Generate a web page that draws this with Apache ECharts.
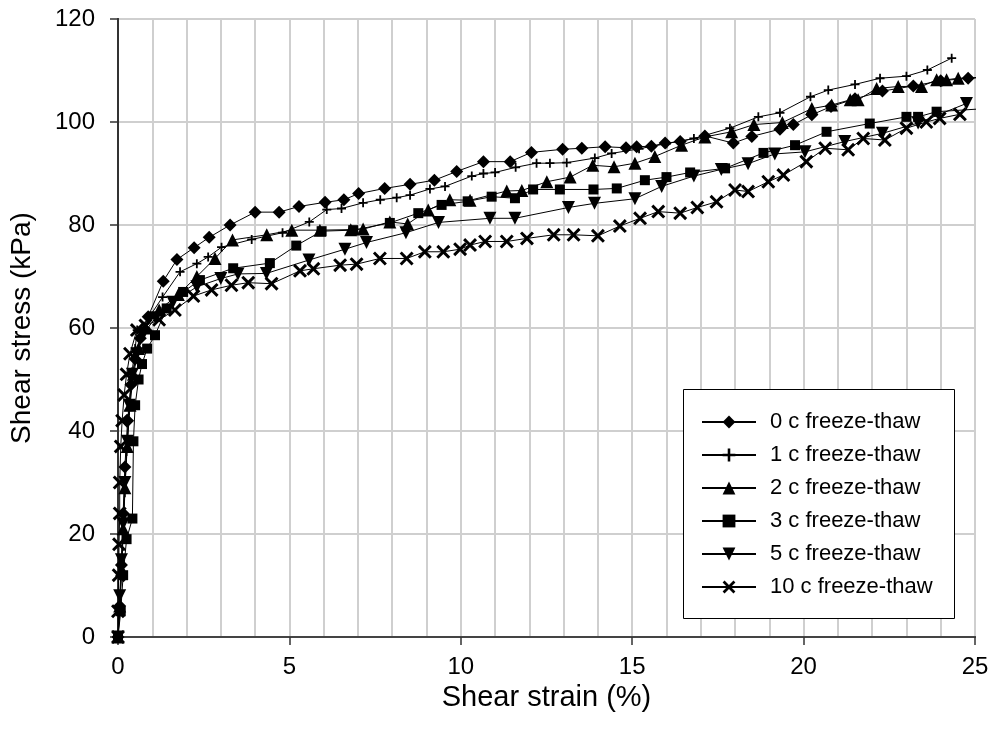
<!DOCTYPE html>
<html>
<head>
<meta charset="utf-8">
<script src="https://cdn.jsdelivr.net/npm/echarts@6/dist/echarts.min.js"></script>
<style>
html,body{margin:0;padding:0;background:#fff;}
#chart{width:992px;height:745px;}
</style>
</head>
<body>
<div id="chart"></div>
<script>
// Series names
var seriesNames = ['0 c freeze-thaw','1 c freeze-thaw','2 c freeze-thaw','3 c freeze-thaw','5 c freeze-thaw','10 c freeze-thaw'];

// [shear strain (%), shear stress (kPa)]
var ft0 = [[0,0],[0.05,6],[0.1,14],[0.15,24],[0.2,33],[0.28,42],[0.38,49],[0.5,54],[0.65,58],[0.88,62.2],[1.32,69.1],[1.72,73.3],[2.22,75.6],[2.66,77.6],[3.27,80.0],[4.0,82.5],[4.7,82.5],[5.28,83.6],[6.04,84.4],[6.59,84.9],[7.02,86.1],[7.78,87.1],[8.52,87.9],[9.23,88.7],[9.88,90.4],[10.66,92.3],[11.44,92.3],[12.06,94.1],[12.97,94.7],[13.53,94.9],[14.21,95.2],[14.82,95.0],[15.13,95.2],[15.56,95.3],[15.96,95.9],[16.40,96.2],[17.12,97.3],[17.95,95.9],[18.49,97.2],[19.31,98.6],[19.7,99.5],[20.24,101.4],[20.8,103],[21.5,104.5],[22.3,106],[23.2,107],[24.0,108],[24.8,108.5],[25.3,108.8]];
var ft1 = [[0,0],[0.05,5],[0.1,12],[0.15,20],[0.2,28],[0.25,36],[0.32,44],[0.4,51],[0.5,56],[0.56,59.6],[0.9,62],[1.3,66],[1.81,70.9],[2.3,72.5],[2.63,73.8],[3.02,75.7],[3.9,77.2],[4.8,78.5],[5.58,80.6],[6.09,83.0],[6.52,83.2],[7.15,84.3],[7.65,84.9],[8.13,85.3],[8.52,85.8],[9.10,87.0],[9.54,87.5],[10.32,89.5],[10.66,90.0],[11.0,90.2],[11.6,91.2],[12.21,92.0],[12.6,92.0],[13.09,92.1],[13.91,93.0],[14.40,93.9],[15.2,94.8],[16.0,95.8],[16.8,96.8],[17.85,98.8],[18.68,101.0],[19.31,101.8],[20.2,104.9],[20.72,106.2],[21.5,107.3],[22.23,108.5],[23.0,108.9],[23.61,110.1],[24.32,112.4]];
var ft2 = [[0,0],[0.05,6],[0.1,13],[0.15,21],[0.2,29],[0.27,37],[0.35,45],[0.45,51],[0.6,56],[0.8,60],[1.2,63.5],[1.76,66.5],[2.3,70],[2.83,73.5],[3.34,77.1],[4.34,78.1],[5.07,79.0],[5.89,79.0],[6.79,79.1],[7.15,79.2],[7.93,80.6],[8.45,80.2],[9.05,82.9],[9.68,84.9],[10.27,84.8],[11.34,86.6],[11.78,86.7],[12.51,88.4],[13.19,89.3],[13.85,91.6],[14.47,91.3],[15.08,92.0],[15.66,93.3],[16.44,95.5],[17.12,97.1],[17.9,98.1],[18.55,99.5],[19.38,99.9],[20.24,102.6],[20.82,103.3],[21.36,104.3],[21.59,104.3],[22.13,106.5],[22.76,106.9],[23.44,106.9],[23.88,108.2],[24.17,108.2],[24.51,108.5],[25.3,108.6]];
var ft3 = [[0,0],[0.08,5],[0.15,12],[0.25,19],[0.42,23],[0.45,38],[0.5,45],[0.6,50],[0.7,53],[0.85,56],[1.08,58.6],[1.42,63.8],[1.9,67],[2.39,69.3],[3.36,71.6],[4.43,72.6],[5.2,76.0],[5.94,78.8],[6.86,79.0],[7.93,80.4],[8.76,82.3],[9.44,83.9],[10.2,84.6],[10.9,85.5],[11.58,85.2],[12.11,86.9],[12.89,86.9],[13.87,86.9],[14.55,87.1],[15.37,88.7],[16.0,89.3],[16.69,90.2],[17.71,91.0],[18.83,94.0],[19.75,95.5],[20.67,98.1],[21.93,99.7],[23.0,101.0],[23.34,101.0],[23.88,102.0],[25.3,102.6]];
var ft5 = [[0,0],[0.05,8],[0.1,15],[0.15,22],[0.2,30],[0.27,38],[0.33,45],[0.42,51],[0.55,55],[0.75,59],[1.1,62],[1.6,65],[2.3,68],[3.0,69.6],[3.5,70.5],[4.33,70.6],[5.57,73.2],[6.62,75.3],[7.25,76.6],[8.4,78.5],[9.35,80.5],[10.85,81.3],[11.58,81.3],[13.14,83.4],[13.9,84.2],[15.08,85.1],[15.86,87.5],[16.8,89.5],[17.6,90.8],[18.38,91.9],[19.16,93.8],[20.04,94.2],[21.2,96.2],[22.3,97.8],[23.34,99.8],[24.75,103.6]];
var ft10 = [[0,0],[0.0,5],[0.02,12],[0.03,18],[0.05,24],[0.05,30],[0.08,37],[0.12,42],[0.18,47],[0.25,51],[0.35,55],[0.55,59.6],[0.8,60.5],[1.2,61.6],[1.66,63.5],[2.2,66.2],[2.73,67.4],[3.31,68.3],[3.8,68.8],[4.48,68.6],[5.31,71.1],[5.7,71.5],[6.48,72.2],[6.96,72.4],[7.64,73.5],[8.42,73.5],[8.95,74.8],[9.49,74.8],[9.98,75.3],[10.27,76.1],[10.71,76.8],[11.34,76.8],[11.93,77.4],[12.71,78.1],[13.29,78.1],[14.0,77.9],[14.64,79.8],[15.23,81.3],[15.76,82.6],[16.4,82.3],[16.9,83.4],[17.46,84.5],[18.0,86.8],[18.38,86.5],[18.97,88.4],[19.41,89.7],[20.08,92.3],[20.63,94.9],[21.3,94.6],[21.74,96.8],[22.37,96.5],[23.0,98.8],[23.58,100.0],[23.97,100.7],[24.56,101.5]];

var xTicks = [0,5,10,15,20,25];
var yTicks = [0,20,40,60,80,100,120];

var FONT = '"Liberation Sans", Arial, sans-serif';
var plusPath = 'path://M-1,-5H1V-1H5V1H1V5H-1V1H-5V-1H-1Z';
var xPath = 'path://M-5,-3.5L-3.5,-5L0,-1.5L3.5,-5L5,-3.5L1.5,0L5,3.5L3.5,5L0,1.5L-3.5,5L-5,3.5L-1.5,0Z';

var allData = [ft0, ft1, ft2, ft3, ft5, ft10];
var symbols = ['diamond', plusPath, 'triangle', 'rect', 'triangle', xPath];
var sizes = [13, 9, 13, 10, 13, 14];
var rotates = [0, 0, 0, 0, 180, 0];

var series = allData.map(function (d, i) {
  return {
    name: seriesNames[i],
    type: 'line',
    data: d,
    symbol: symbols[i],
    symbolSize: sizes[i],
    symbolRotate: rotates[i],
    showAllSymbol: true,
    clip: true,
    lineStyle: {color: '#000', width: 1},
    itemStyle: {color: '#000'},
    animation: false,
    z: 2
  };
});

var chart = echarts.init(document.getElementById('chart'), null, {renderer: 'canvas'});
chart.setOption({
  backgroundColor: '#fff',
  animation: false,
  textStyle: {fontFamily: FONT},
  grid: {left: 118, right: 17, top: 19, bottom: 108},
  xAxis: [{
    type: 'value', min: xTicks[0], max: xTicks[xTicks.length-1], interval: 5,
    name: 'Shear strain (%)', nameLocation: 'middle', nameGap: 45,
    nameTextStyle: {fontSize: 29, color: '#000', fontFamily: FONT},
    axisLine: {show: true, onZero: false, lineStyle: {color: '#333', width: 2}},
    axisTick: {show: true, length: 8, lineStyle: {color: '#333', width: 1.5}},
    axisLabel: {fontSize: 24, color: '#000', margin: 18, fontFamily: FONT},
    splitLine: {show: true, lineStyle: {color: '#cfcfcf', width: 2}},
    minorTick: {show: false, splitNumber: 5},
    minorSplitLine: {show: true, lineStyle: {color: '#cfcfcf', width: 2}}
  }, {
    type: 'value', position: 'top', min: 0, max: 25,
    axisLine: {show: true, lineStyle: {color: '#444', width: 2}},
    axisTick: {show: false}, axisLabel: {show: false}, splitLine: {show: false}
  }],
  yAxis: [{
    type: 'value', min: yTicks[0], max: yTicks[yTicks.length-1], interval: 20,
    name: 'Shear stress (kPa)', nameLocation: 'middle', nameGap: 82,
    nameTextStyle: {fontSize: 28, color: '#000', fontFamily: FONT},
    axisLine: {show: true, onZero: false, lineStyle: {color: '#333', width: 2}},
    axisTick: {show: true, length: 8, lineStyle: {color: '#333', width: 1.5}},
    axisLabel: {fontSize: 24, color: '#000', margin: 23, fontFamily: FONT},
    splitLine: {show: true, lineStyle: {color: '#cfcfcf', width: 2}}
  }, {
    type: 'value', position: 'right', min: 0, max: 120,
    axisLine: {show: true, lineStyle: {color: '#333', width: 2}},
    axisTick: {show: false}, axisLabel: {show: false}, splitLine: {show: false}
  }],
  graphic: [{
    type: 'rect', left: 683, top: 389, z: 3,
    shape: {width: 271, height: 229},
    style: {fill: '#fff', stroke: '#000', lineWidth: 1}
  }],
  legend: {
    show: true, orient: 'vertical', left: 701, top: 411, z: 10,
    itemWidth: 54, itemHeight: 16, itemGap: 11, padding: 0,
    textStyle: {fontSize: 22, color: '#000', fontFamily: FONT, padding: [0,0,0,9]},
    data: seriesNames
  },
  series: series
});
</script>
</body>
</html>
